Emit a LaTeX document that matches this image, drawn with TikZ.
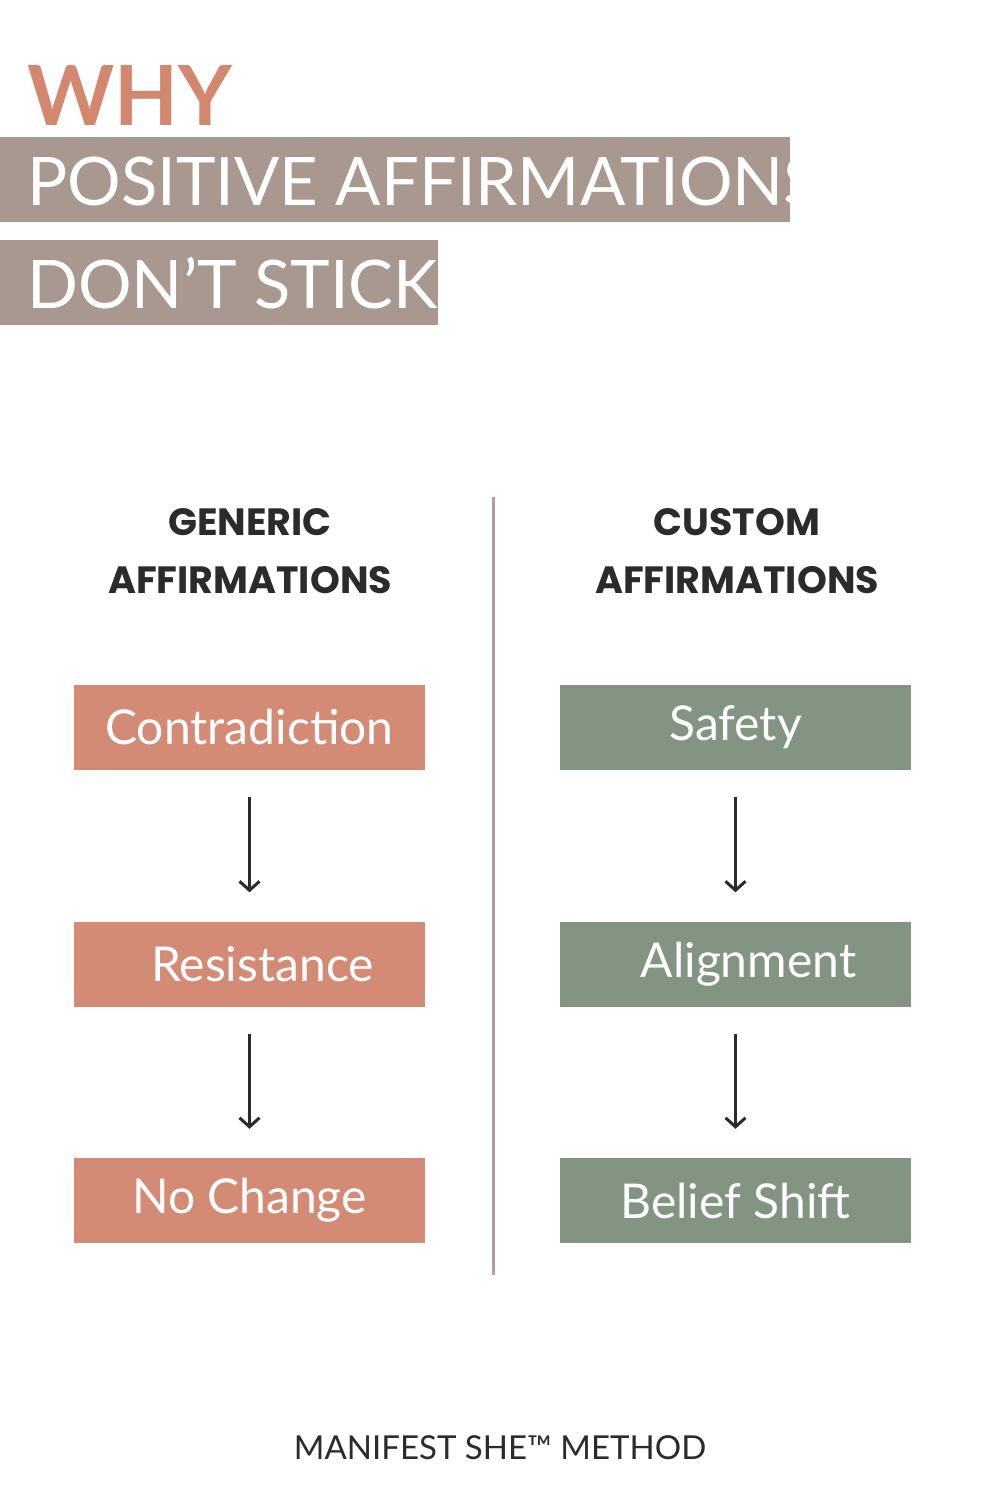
\documentclass[tikz,border=0pt]{standalone}
\usepackage{fontspec}
\setmainfont{Lato}
\newfontfamily\pop{Poppins}
\usetikzlibrary{arrows.meta}
\definecolor{salm}{HTML}{D38B76}
\definecolor{why}{HTML}{D4876F}
\definecolor{bar}{HTML}{A89890}
\definecolor{grn}{HTML}{849483}
\definecolor{divc}{HTML}{B59F95}
\definecolor{ink}{HTML}{2B2B2B}
\begin{document}
\begin{tikzpicture}[x=1pt,y=-1pt,
  box/.style={minimum width=351pt,minimum height=85pt,inner sep=0pt,text=white,font=\fontsize{48}{50}\selectfont},
  lbox/.style={box,fill=salm},
  rbox/.style={box,fill=grn},
  head/.style={font=\pop\bfseries\fontsize{38}{58}\selectfont,text=ink,align=center},
  arr/.style={-{Straight Barb[length=9pt,width=20pt,line width=3pt]},line width=3.5pt,draw=ink,shorten <=27pt,shorten >=29pt}]
\useasboundingbox (0,0) rectangle (1000,1500);
\fill[white] (0,0) rectangle (1000,1500);
\node[anchor=base west,inner sep=0pt,text=why,font=\bfseries\fontsize{83}{83}\selectfont] (why) at (27,125) {WHY};
\fill[bar] (0,137) rectangle (790,222);
\node[anchor=base west,inner sep=0pt,text=white,font=\fontsize{67}{67}\selectfont] (t1) at (27,205) {POSITIVE AFFIRMATIONS};
\fill[bar] (0,240) rectangle (438,325);
\node[anchor=base west,inner sep=0pt,text=white,font=\fontsize{67}{67}\selectfont] (t2) at (27,308) {DON’T STICK};
\draw[divc,line width=3pt] (493,497) -- (493,1275);
\node[head] (hl) at (250,551) {GENERIC\\AFFIRMATIONS};
\node[head] (hr) at (737,551) {CUSTOM\\AFFIRMATIONS};
\node[lbox] (l1) at (249.5,727.5) {Contradiction};
\node[lbox] (l2) at (249.5,964) {\hspace*{26pt}Resistance};
\node[lbox] (l3) at (249.5,1200.5) {No Change};
\node[rbox] (r1) at (735.5,727.5) {Safety};
\node[rbox] (r2) at (735.5,964) {\hspace*{26pt}Alignment};
\node[rbox] (r3) at (735.5,1200.5) {Belief Shift};
\draw[arr] (l1) -- (l2);
\draw[arr] (l2) -- (l3);
\draw[arr] (r1) -- (r2);
\draw[arr] (r2) -- (r3);
\node[anchor=base,inner sep=0pt,text=ink,font=\fontsize{33}{33}\selectfont] (ft) at (500,1459) {MANIFEST SHE™ METHOD};
\end{tikzpicture}
\end{document}
